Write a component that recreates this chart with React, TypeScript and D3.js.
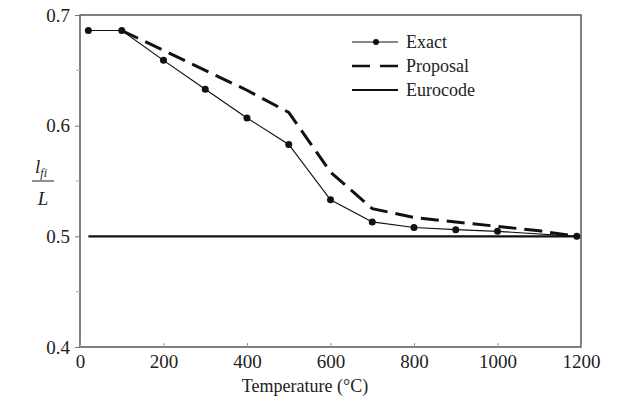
import React, { useRef, useEffect } from 'react';
import * as d3 from 'd3';

const exactT = [20, 100, 200, 300, 400, 500, 600, 700, 800, 900, 1000, 1190];
const exactV = [0.686, 0.686, 0.659, 0.633, 0.607, 0.583, 0.533, 0.513, 0.508, 0.506, 0.5045, 0.5];
const proposalT = [100, 200, 300, 400, 500, 600, 700, 800, 900, 1000, 1100, 1190];
const proposalV = [0.686, 0.668, 0.65, 0.632, 0.612, 0.558, 0.525, 0.517, 0.513, 0.509, 0.505, 0.5];
const eurocodeT = [20, 1190];
const eurocodeV = [0.5, 0.5];
const xTicks = [0, 200, 400, 600, 800, 1000, 1200];
const yTicks = [0.4, 0.5, 0.6, 0.7];
const yMinor = [0.45, 0.55, 0.65];
const legendNames = ['Exact', 'Proposal', 'Eurocode'];

const font = "'Liberation Serif', 'Times New Roman', Times, serif";

function App() {
  const svgRef = useRef<SVGSVGElement>(null);
  const width = 617;
  const height = 411;
  const left = 80;
  const right = 581;
  const top = 15;
  const bottom = 347;

  useEffect(() => {
    const svg = d3.select(svgRef.current);
    svg.selectAll('*').remove();

    const x = d3.scaleLinear().domain([0, 1200]).range([left, right]);
    const y = d3.scaleLinear().domain([0.4, 0.7]).range([bottom, top]);

    const line = d3
      .line<[number, number]>()
      .x((d) => x(d[0]))
      .y((d) => y(d[1]));

    // frame
    svg
      .append('rect')
      .attr('x', left)
      .attr('y', top)
      .attr('width', right - left)
      .attr('height', bottom - top)
      .attr('fill', 'none')
      .attr('stroke', '#555')
      .attr('stroke-width', 1.5);

    // y axis
    const yAxis = svg.append('g').attr('transform', 'translate(' + left + ',0)');
    yAxis
      .call(d3.axisLeft(y).tickValues(yTicks).tickSize(5).tickFormat(d3.format('.1f')))
      .call((g) => g.select('.domain').remove());
    yAxis.selectAll('line').attr('stroke', '#777');
    yAxis
      .selectAll('text')
      .attr('font-family', font)
      .attr('font-size', '19px')
      .attr('fill', '#222')
      .attr('dx', '-2');
    yAxis
      .selectAll('.minor')
      .data(yMinor)
      .enter()
      .append('line')
      .attr('x1', -4)
      .attr('x2', 0)
      .attr('y1', (d) => y(d))
      .attr('y2', (d) => y(d))
      .attr('stroke', '#aaa');

    // x axis
    const xAxis = svg.append('g').attr('transform', 'translate(0,' + bottom + ')');
    xAxis
      .call(
        d3
          .axisBottom(x)
          .tickValues(xTicks)
          .tickSizeInner(-4)
          .tickSizeOuter(0)
          .tickPadding(8)
          .tickFormat(d3.format('d'))
      )
      .call((g) => g.select('.domain').remove());
    xAxis.selectAll('line').attr('stroke', '#999');
    xAxis
      .selectAll('text')
      .attr('font-family', font)
      .attr('font-size', '19px')
      .attr('fill', '#222');

    // series
    const plot = svg.append('g');
    plot
      .append('path')
      .datum(eurocodeT.map((t, i) => [t, eurocodeV[i]] as [number, number]))
      .attr('d', line)
      .attr('fill', 'none')
      .attr('stroke', '#111')
      .attr('stroke-width', 2.2);

    plot
      .append('path')
      .datum(proposalT.map((t, i) => [t, proposalV[i]] as [number, number]))
      .attr('d', line)
      .attr('fill', 'none')
      .attr('stroke', '#111')
      .attr('stroke-width', 3)
      .attr('stroke-dasharray', '18,8');

    const exact = exactT.map((t, i) => [t, exactV[i]] as [number, number]);
    plot
      .append('path')
      .datum(exact)
      .attr('d', line)
      .attr('fill', 'none')
      .attr('stroke', '#111')
      .attr('stroke-width', 1.2);
    plot
      .selectAll('circle')
      .data(exact)
      .enter()
      .append('circle')
      .attr('cx', (d) => x(d[0]))
      .attr('cy', (d) => y(d[1]))
      .attr('r', 3.5)
      .attr('fill', '#111');

    // legend
    const legend = svg.append('g').attr('transform', 'translate(352,42)');
    legendNames.forEach((name, i) => {
      const g = legend.append('g').attr('transform', 'translate(0,' + i * 24 + ')');
      const ln = g
        .append('line')
        .attr('x1', 0)
        .attr('x2', 46)
        .attr('y1', 0)
        .attr('y2', 0)
        .attr('stroke', '#111');
      if (i === 0) {
        ln.attr('stroke-width', 1.2);
        g.append('circle').attr('cx', 24).attr('cy', 0).attr('r', 3).attr('fill', '#111');
      } else if (i === 1) {
        ln.attr('stroke-width', 2.5).attr('stroke-dasharray', '18,10');
      } else {
        ln.attr('stroke-width', 2.2);
      }
      g.append('text')
        .text(name)
        .attr('x', 54)
        .attr('y', 6)
        .attr('font-family', font)
        .attr('font-size', '18px')
        .attr('fill', '#222');
    });

    // axis titles
    svg
      .append('text')
      .text('Temperature (°C)')
      .attr('x', 305)
      .attr('y', 392)
      .attr('text-anchor', 'middle')
      .attr('font-family', font)
      .attr('font-size', '18px')
      .attr('fill', '#222');

    const yl = svg.append('g').attr('transform', 'translate(43,0)');
    const num = yl
      .append('text')
      .attr('x', -2)
      .attr('y', 173)
      .attr('text-anchor', 'middle')
      .attr('font-family', font)
      .attr('font-style', 'italic')
      .attr('font-size', '19px')
      .attr('fill', '#222');
    num.append('tspan').text('l');
    num.append('tspan').text('fi').attr('font-size', '12px').attr('dy', 4);
    yl.append('line')
      .attr('x1', -11)
      .attr('x2', 11)
      .attr('y1', 181)
      .attr('y2', 181)
      .attr('stroke', '#222')
      .attr('stroke-width', 1);
    yl.append('text')
      .text('L')
      .attr('x', 0)
      .attr('y', 205)
      .attr('text-anchor', 'middle')
      .attr('font-family', font)
      .attr('font-style', 'italic')
      .attr('font-size', '19px')
      .attr('fill', '#222');
  }, []);

  return (
    <svg
      ref={svgRef}
      width={width}
      height={height}
      style={{ position: 'absolute', left: 0, top: 0, background: '#fff' }}
    ></svg>
  );
}

export default App;
